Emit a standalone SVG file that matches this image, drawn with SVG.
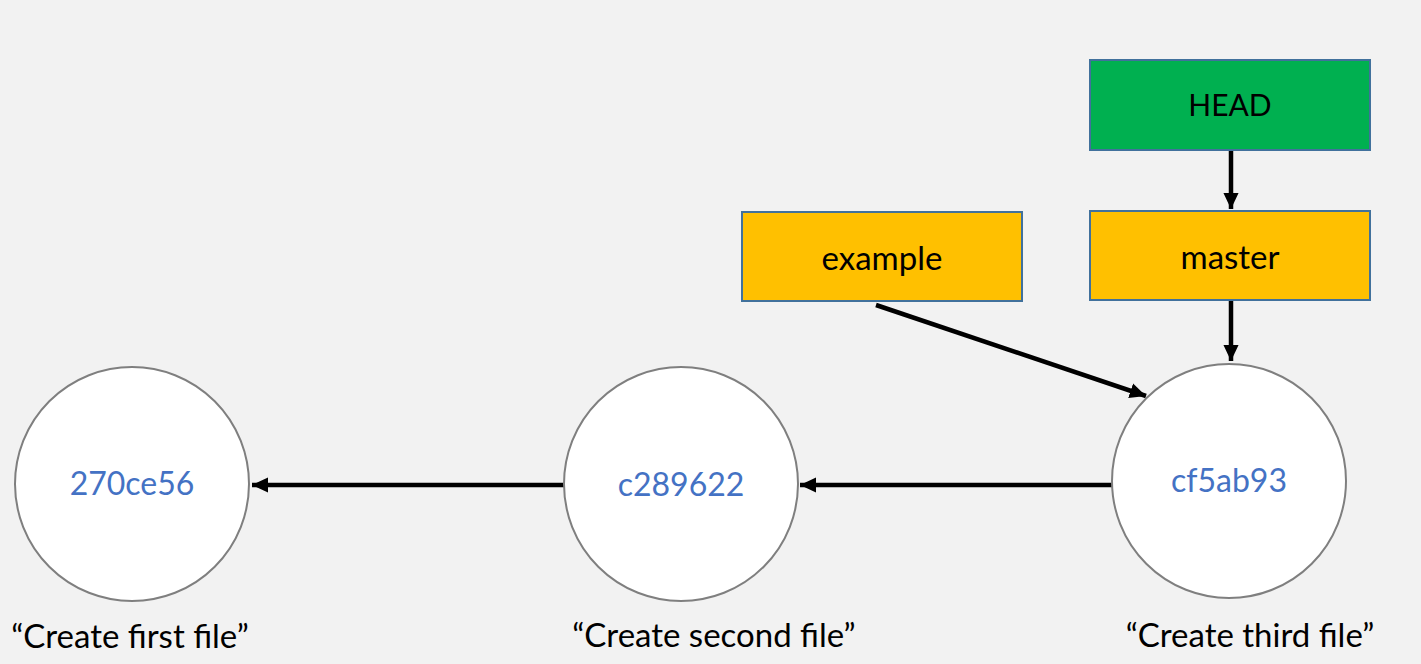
<svg xmlns="http://www.w3.org/2000/svg" width="1421" height="664" viewBox="0 0 1421 664">
<style>
.box{stroke:#41719C;stroke-width:2}
.commit{fill:#fff;stroke:#7f7f7f;stroke-width:2}
.t{font-family:Lato,"Open Sans","Liberation Sans",sans-serif;font-size:33px;text-anchor:middle;fill:#000}
.cap{font-size:30px}
.h{fill:#4472C4;font-size:32px}
.edge{stroke:#000;stroke-width:4.5;fill:none;marker-end:url(#arr)}
</style>
<defs>
<marker id="arr" markerWidth="4" markerHeight="4" refX="3.6" refY="2" orient="auto" markerUnits="strokeWidth">
<path d="M0,0.3 L3.6,2 L0,3.7 Z" fill="#000"/>
</marker>
</defs>
<rect width="1421" height="664" fill="#F2F2F2"/>
<g id="connectors">
<line class="edge" x1="1231" y1="151" x2="1231" y2="209"/>
<line class="edge" x1="1231" y1="301" x2="1231" y2="361"/>
<line class="edge" x1="876" y1="305" x2="1146" y2="396"/>
<line class="edge" x1="1112" y1="485" x2="800" y2="485"/>
<line class="edge" x1="564" y1="485" x2="252" y2="485"/>
</g>
<g id="head">
<rect class="box" x="1090" y="60" width="280" height="90" fill="#00B050"/>
<text class="t cap" x="1230" y="116">HEAD</text>
</g>
<g id="master">
<rect class="box" x="1090" y="211" width="280" height="89" fill="#FFC000"/>
<text class="t" x="1230" y="269">master</text>
</g>
<g id="example">
<rect class="box" x="742" y="212" width="280" height="89" fill="#FFC000"/>
<text class="t" x="882" y="270">example</text>
</g>
<g id="c1">
<ellipse class="commit" cx="132" cy="484" rx="117" ry="117"/>
<text class="t h" x="132" y="495">270ce56</text>
<text class="t" x="130" y="648">“Create first file”</text>
</g>
<g id="c2">
<ellipse class="commit" cx="681" cy="484" rx="117" ry="117"/>
<text class="t h" x="681" y="496">c289622</text>
<text class="t" x="714" y="647">“Create second file”</text>
</g>
<g id="c3">
<ellipse class="commit" cx="1229" cy="481" rx="117" ry="117"/>
<text class="t h" x="1229" y="492">cf5ab93</text>
<text class="t" x="1250" y="647">“Create third file”</text>
</g>
</svg>
